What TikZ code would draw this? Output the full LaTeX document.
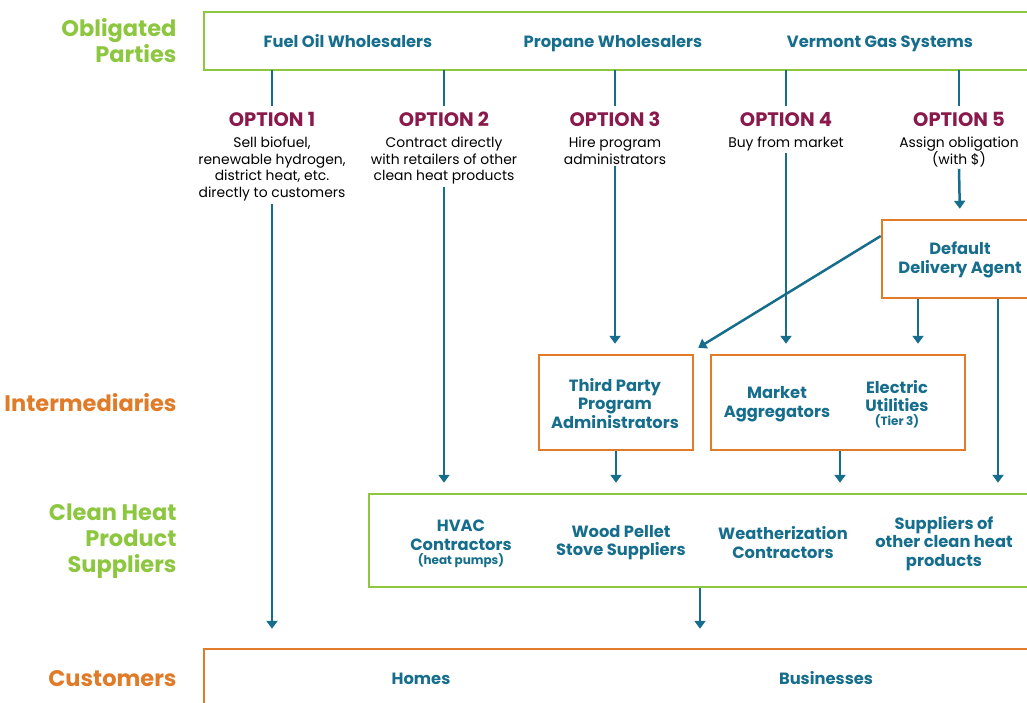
\documentclass[tikz,border=0pt]{standalone}
\usepackage{fontspec}
\setmainfont{Poppins}
\definecolor{cgreen}{RGB}{141,198,63}
\definecolor{corange}{RGB}{224,123,41}
\definecolor{cteal}{RGB}{22,110,140}
\definecolor{cplum}{RGB}{138,26,75}
\usetikzlibrary{arrows.meta,positioning}

\begin{document}
\begin{tikzpicture}[x=1pt,y=-1pt,
    tierlabel/.style={font=\bfseries\fontsize{22.5}{26}\selectfont, align=right, anchor=east},
    gbox/.style={draw=cgreen, line width=2.5pt},
    obox/.style={draw=corange, line width=2.5pt},
    item/.style={text=cteal, font=\bfseries\fontsize{16.3}{18.5}\selectfont, align=center},
    note/.style={font=\bfseries\fontsize{12}{13}\selectfont},
    optlabel/.style={text=cplum, font=\bfseries\fontsize{19.5}{20}\selectfont},
    optdesc/.style={font=\fontsize{13.9}{16.8}\selectfont, align=center, anchor=north, inner sep=2pt},
    link/.style={draw=cteal, line width=2.5pt},
    arr/.style={link, -{Triangle[width=11pt,length=8pt]}, shorten >=10pt}
  ]
  \clip (0,0) rectangle (1027,702);
  \useasboundingbox (0,0) rectangle (1027,702);

  % tier labels
  \node[tierlabel, text=cgreen] (tobl) at (180,41) {Obligated\\Parties};
  \node[tierlabel, text=corange] (tint) at (180,403) {Intermediaries};
  \node[tierlabel, text=cgreen] (tchp) at (180,541) {Clean Heat\\Product\\Suppliers};
  \node[tierlabel, text=corange] (tcus) at (180,679) {Customers};

  % obligated parties
  \node[gbox, minimum width=841pt, minimum height=58pt] (obl) at (624.5,41) {};
  \node[item, anchor=base] (fow) at (348,47.5) {Fuel Oil Wholesalers};
  \node[item, anchor=base] (pw) at (613,47.5) {Propane Wholesalers};
  \node[item, anchor=base] (vgs) at (880,47.5) {Vermont Gas Systems};

  % options
  \node[optlabel, anchor=base] (o1) at (272,126) {OPTION 1};
  \node[optlabel, anchor=base] (o2) at (444,126) {OPTION 2};
  \node[optlabel, anchor=base] (o3) at (615,126) {OPTION 3};
  \node[optlabel, anchor=base] (o4) at (786,126) {OPTION 4};
  \node[optlabel, anchor=base] (o5) at (959,126) {OPTION 5};
  \node[optdesc] (d1) at (272,134.5) {Sell biofuel,\\renewable hydrogen,\\district heat, etc.\\directly to customers};
  \node[optdesc] (d2) at (444,134.5) {Contract directly\\with retailers of other\\clean heat products};
  \node[optdesc] (d3) at (615,134.5) {Hire program\\administrators};
  \node[optdesc] (d4) at (786,134.5) {Buy from market};
  \node[optdesc] (d5) at (959,134.5) {Assign obligation\\(with \$)};

  % intermediaries
  \node[obox, minimum width=156pt, minimum height=78pt] (dda) at (960,259) {};
  \node[item] (ddat) at (960,260) {Default\\Delivery Agent};
  \node[obox, minimum width=154pt, minimum height=95pt] (tpa) at (616,402.5) {};
  \node[item] (tpat) at (615,403.5) {Third Party\\Program\\Administrators};
  \node[obox, minimum width=254pt, minimum height=95pt] (mkt) at (838,402.5) {};
  \node[item] (mag) at (777,404) {Market\\Aggregators};
  \node[item] (eut) at (897,396) {Electric\\Utilities};
  \node[note, text=cteal] (tier) at (897,421) {(Tier 3)};

  % clean heat product suppliers
  \node[gbox, minimum width=676pt, minimum height=93pt] (chp) at (707,540.5) {};
  \node[item] (hvac) at (461,535.5) {HVAC\\Contractors};
  \node[note, text=cteal] (hp) at (461,561) {(heat pumps)};
  \node[item] (wps) at (621,542.5) {Wood Pellet\\Stove Suppliers};
  \node[item] (wz) at (783,542.5) {Weatherization\\Contractors};
  \node[item] (soc) at (944,543.5) {Suppliers of\\other clean heat\\products};

  % customers
  \node[obox, minimum width=841pt, minimum height=71pt] (cust) at (624.5,684.5) {};
  \node[item, anchor=base] (homes) at (421,684.5) {Homes};
  \node[item, anchor=base] (bus) at (826,684.5) {Businesses};

  % connectors
  \foreach \o in {o1,o2,o3,o4,o5}
    \draw[link, shorten <=-1pt, shorten >=2pt] (\o |- obl.south) -- (\o.north);
  \draw[arr, shorten >=19pt] (d1.south) -- (d1.south |- cust.north);
  \draw[arr] (d2.south) -- (d2.south |- chp.north);
  \draw[arr] (d3.south) -- (d3.south |- tpa.north);
  \draw[arr] (d4.south) -- (d4.south |- mkt.north);
  \draw[arr] (d5.south) -- (dda.north);
  \draw[arr, shorten >=0pt] ([yshift=23pt]dda.west) -- ([xshift=4pt,yshift=6pt]tpa.north east);
  \draw[arr] ([xshift=-42pt]dda.south) -- ([xshift=-42pt]dda.south |- mkt.north);
  \draw[arr] ([xshift=38pt]dda.south) -- ([xshift=38pt]dda.south |- chp.north);
  \draw[arr] (tpa.south) -- (tpa.south |- chp.north);
  \draw[arr] ([xshift=2pt]mkt.south) -- ([xshift=2pt]mkt.south |- chp.north);
  \draw[arr, shorten >=19pt] ([xshift=-7pt]chp.south) -- ([xshift=-7pt]chp.south |- cust.north);
\end{tikzpicture}
\end{document}
